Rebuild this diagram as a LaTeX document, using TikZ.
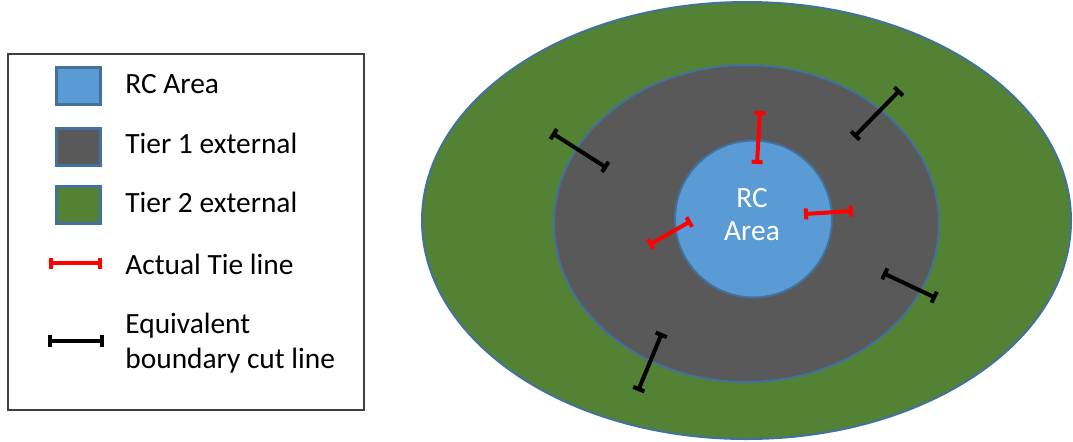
\documentclass[tikz,border=0pt]{standalone}
\usepackage{fontspec}
\setmainfont{Carlito}
\usetikzlibrary{arrows.meta}

\definecolor{rcblue}{HTML}{5B9BD5}
\definecolor{tiergray}{HTML}{595959}
\definecolor{tiergreen}{HTML}{548235}
\definecolor{edgeblue}{HTML}{41719C}

\begin{document}
\begin{tikzpicture}[x=0.5pt,y=-0.5pt,
  swatch/.style={draw=edgeblue,line width=1.5pt,minimum width=22pt,minimum height=18.5pt,inner sep=0pt},
  legendtext/.style={anchor=west,inner sep=0pt,align=left,font=\fontsize{14.7}{17.6}\selectfont},
  tieline/.style={red,line width=2pt,{Bar[width=5.5pt]}-{Bar[width=5.5pt]}},
  cutline/.style={black,line width=2pt,{Bar[width=6pt]}-{Bar[width=6pt]}}]
  \useasboundingbox (0,0) rectangle (1073,441);

  % the areas
  \draw[edgeblue,line width=1pt,fill=tiergreen] (746.5,220.5) ellipse [x radius=324.5,y radius=218.5];
  \draw[edgeblue,line width=1pt,fill=tiergray] (746.5,223.5) ellipse [x radius=192.5,y radius=158.5];
  \draw[edgeblue,line width=1pt,fill=rcblue] (753.5,219) circle [radius=78.5];
  \node [white,align=center,inner sep=0pt,font=\fontsize{14.7}{16.5}\selectfont] (rclabel) at (752,215) {RC\\Area};

  % tie lines
  \foreach \x/\y/\u/\v [count=\i] in {760/111/757/164, 804/214/853/211, 649/245/691/221}
  {
    \coordinate (tie\i a) at (\x,\y);
    \coordinate (tie\i b) at (\u,\v);
    \draw[tieline] (tie\i a) -- (tie\i b);
  }
  % boundary cut lines
  \foreach \x/\y/\u/\v [count=\i] in {552/133/607/168, 900/90/854/137, 883/273/936/298, 662/333/638/391}
  {
    \coordinate (cut\i a) at (\x,\y);
    \coordinate (cut\i b) at (\u,\v);
    \draw[cutline] (cut\i a) -- (cut\i b);
  }

  % legend
  \draw[black!75,line width=1pt] (8,54) rectangle (364,410);
  \node [swatch,fill=rcblue]    (keyrc) at (78,86) {};
  \node [swatch,fill=tiergray]  (keyone) at (78,147) {};
  \node [swatch,fill=tiergreen] (keytwo) at (78,205) {};
  \node [legendtext] (txtrc)  at (125,84)  {RC Area};
  \node [legendtext] (txtone) at (125,143) {Tier 1 external};
  \node [legendtext] (txttwo) at (125,202) {Tier 2 external};
  \node [legendtext] (txttie) at (125,264) {Actual Tie line};
  \node [legendtext] (txtcut) at (125,343) {Equivalent\\boundary cut line};
  \coordinate (keytiea) at (49,263);
  \coordinate (keytieb) at (102,263);
  \draw[tieline] (keytiea) -- (keytieb);
  \coordinate (keycuta) at (48,341);
  \coordinate (keycutb) at (104,341);
  \draw[cutline] (keycuta) -- (keycutb);
\end{tikzpicture}
\end{document}
